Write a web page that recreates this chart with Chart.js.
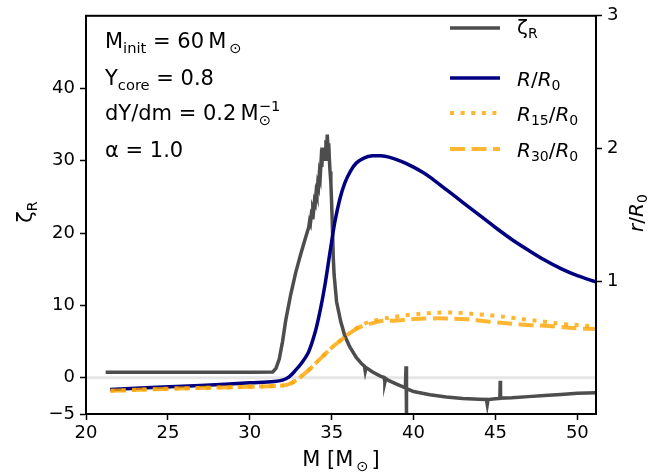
<!DOCTYPE html>
<html>
<head>
<meta charset="utf-8">
<script src="https://cdn.jsdelivr.net/npm/chart.js@4.4.0/dist/chart.umd.min.js"></script>
<style>
  html, body { margin: 0; padding: 0; background: #fff; }
  #wrap { width: 665px; height: 476px; }
</style>
</head>
<body>
<div id="wrap"><canvas id="chart" width="665" height="476"></canvas></div>
<script>
// axis ranges and ticks
var xMin = 20, xMax = 51.14;
var xTicks = [20, 25, 30, 35, 40, 45, 50];
var zetaMin = -5, zetaMax = 50;
var zetaTicks = [-5, 0, 10, 20, 30, 40];
var rMin = 0, rMax = 3;
var rTicks = [1, 2, 3];

// zeta_R vs mass (left axis)
var zetaM = [21.2, 25, 30, 31.4, 31.6, 31.8, 32.0, 32.2, 32.5, 32.8, 33.1, 33.4,
  33.6, 33.65, 33.7, 33.75, 33.8, 33.85, 33.9, 33.95, 34.0, 34.05, 34.1, 34.15, 34.2, 34.25, 34.3, 34.35,
  34.4, 34.45, 34.5, 34.55, 34.6, 34.65, 34.7, 34.73, 34.78, 34.82, 34.86, 34.9,
  34.95, 35.0, 35.05, 35.1, 35.15, 35.3, 35.55, 35.8, 36.1, 36.5, 36.85, 37.0, 37.05, 37.1, 37.5,
  38.0, 38.2, 38.25, 38.3, 38.5, 39.0, 39.5, 39.54, 39.56, 39.58, 40, 41, 42, 43, 44, 44.45, 44.5, 44.55,
  45, 45.27, 45.29, 45.31, 46, 47, 48, 49, 50, 51.14];
var zetaV = [0.75, 0.75, 0.75, 0.8, 1.3, 2.6, 5.0, 8.0, 11.5, 14.5, 17.0, 19.3,
  20.8, 21.6, 21.3, 22.4, 22.1, 23.4, 23.1, 24.4, 24.1, 25.6, 25.2, 26.8, 26.4, 28.2, 27.7, 29.8,
  29.1, 31.8, 30.2, 31.5, 30.2, 32.8, 31.3, 33.6, 31.6, 32.4, 30.2, 28.5,
  27.0, 24.0, 20.5, 16.5, 14.2, 10.5, 7.8, 5.8, 4.3, 2.8, 1.9, 1.6, 0.9, 1.4, 0.8,
  0.2, 0.05, -0.6, -0.1, -0.4, -0.9, -1.4, 1.6, -5.0, -1.5, -1.9, -2.35, -2.65, -2.85, -2.95, -3.0, -3.7, -3.0,
  -2.9, -2.85, -0.4, -2.8, -2.75, -2.6, -2.45, -2.3, -2.15, -2.05];

// R/R0 vs mass (right axis)
var radM = [21.47, 24, 27, 30, 31.5, 32.0, 32.4, 32.8, 33.2, 33.6, 34.0, 34.3, 34.6, 34.9, 35.2, 35.5,
  35.8, 36.15, 36.5, 37.0, 37.5, 38.0, 38.5, 39.0, 39.5, 40, 40.5, 41, 42, 43, 44, 45, 46, 47, 48, 49, 50, 51.14];
var radV = [0.185, 0.2, 0.215, 0.235, 0.245, 0.255, 0.28, 0.33, 0.39, 0.47, 0.62, 0.78, 0.98, 1.22, 1.45, 1.62,
  1.74, 1.83, 1.89, 1.93, 1.945, 1.945, 1.935, 1.915, 1.89, 1.86, 1.825, 1.785, 1.69, 1.595, 1.5, 1.405, 1.315, 1.235, 1.16, 1.095, 1.042, 0.995];

// R15/R0 and R30/R0 vs mass (right axis)
var shellM = [21.5, 25, 30, 32.0, 32.5, 33.0, 33.5, 34.0, 34.5, 35.0, 35.5, 36.0, 36.5, 37.0, 37.5, 38,
  39, 40, 41, 42, 43, 44, 45, 46, 47, 48, 49, 50, 51.14];
var r15V = [0.175, 0.19, 0.205, 0.215, 0.23, 0.27, 0.32, 0.38, 0.44, 0.5, 0.55, 0.6, 0.645, 0.68, 0.70, 0.715,
  0.735, 0.75, 0.76, 0.765, 0.76, 0.75, 0.74, 0.725, 0.71, 0.695, 0.68, 0.67, 0.66];
var r30V = [0.175, 0.19, 0.205, 0.215, 0.23, 0.27, 0.32, 0.38, 0.44, 0.5, 0.55, 0.6, 0.64, 0.67, 0.685, 0.70,
  0.705, 0.715, 0.72, 0.72, 0.715, 0.705, 0.69, 0.68, 0.67, 0.665, 0.655, 0.645, 0.64];

// zero reference line
var zeroM = [xMin, xMax];
var zeroV = [0, 0];

function pts(xs, ys) {
    var out = [];
    for (var i = 0; i < xs.length; i++) out.push({ x: xs[i], y: ys[i] });
    return out;
}

var FONT = '"DejaVu Sans", sans-serif';
var GRAY = '#4d4d4d', NAVY = '#000080', ORANGE = 'rgba(255,165,0,0.8)';

// draw text runs with sub/superscripts, returns width
function drawRich(ctx, x, y, parts, fs, dry) {
    var cx = x, lastStart = x, lastEnd = x;
    for (var i = 0; i < parts.length; i++) {
        var p = parts[i];
        var size = (p.sub || p.sup) ? fs * 0.7 : fs;
        var dy = p.sub ? fs * 0.22 : (p.sup ? -fs * 0.42 : 0);
        ctx.font = (p.it ? 'italic ' : '') + size + 'px ' + FONT;
        var start = p.stack ? lastStart : cx;
        if (!dry) ctx.fillText(p.t, start, y + dy);
        var end = start + ctx.measureText(p.t).width;
        if (p.stack) {
            cx = Math.max(lastEnd, end);
        } else {
            lastStart = start; lastEnd = end; cx = end;
        }
    }
    return cx - x;
}

function drawCentered(ctx, cx, cy, parts, fs, rot) {
    ctx.save();
    ctx.translate(cx, cy);
    if (rot) ctx.rotate(rot);
    var w = drawRich(ctx, 0, 0, parts, fs, true);
    drawRich(ctx, -w / 2, 0, parts, fs, false);
    ctx.restore();
}

var EQ = ' = ';
var textPlugin = {
    id: 'texts',
    afterDraw: function(chart) {
        var ctx = chart.ctx, a = chart.chartArea;
        ctx.save();
        // frame
        ctx.strokeStyle = '#000';
        ctx.lineWidth = 2;
        ctx.strokeRect(a.left, a.top, a.right - a.left, a.bottom - a.top);

        ctx.fillStyle = '#000';
        ctx.textBaseline = 'alphabetic';
        ctx.textAlign = 'left';

        // parameter annotations
        drawRich(ctx, 105, 48, [{ t: 'M' }, { t: 'init', sub: true }, { t: EQ + '60\u2009M' }, { t: '\u2009\u2299', sub: true }], 21);
        drawRich(ctx, 105, 85, [{ t: 'Y' }, { t: 'core', sub: true }, { t: EQ + '0.8' }], 21);
        drawRich(ctx, 105, 120, [{ t: 'dY/dm' + EQ + '0.2\u2009M' }, { t: '\u2299', sub: true }, { t: '\u22121', sup: true, stack: true }], 21);
        drawRich(ctx, 105, 157, [{ t: '\u03b1' + EQ + '1.0' }], 21);

        // legend
        var lx0 = 450, lx1 = 500, tx = 517;
        var rows = [
            { y: 28, base: 34, color: GRAY, dash: [], parts: [{ t: '\u03b6' }, { t: 'R', sub: true }] },
            { y: 78, base: 86, color: NAVY, dash: [], parts: [{ t: 'R', it: true }, { t: '/' }, { t: 'R', it: true }, { t: '0', sub: true }] },
            { y: 113, base: 121, color: ORANGE, dash: [4, 6.6], parts: [{ t: 'R', it: true }, { t: '15', sub: true }, { t: '/' }, { t: 'R', it: true }, { t: '0', sub: true }] },
            { y: 149, base: 157, color: ORANGE, dash: [15, 6.5], parts: [{ t: 'R', it: true }, { t: '30', sub: true }, { t: '/' }, { t: 'R', it: true }, { t: '0', sub: true }] }
        ];
        rows.forEach(function(r) {
            ctx.beginPath();
            ctx.strokeStyle = r.color;
            ctx.lineWidth = (r.dash.length ? 4 : 3.5);
            ctx.setLineDash(r.dash);
            ctx.moveTo(lx0, r.y);
            ctx.lineTo(lx1, r.y);
            ctx.stroke();
            ctx.setLineDash([]);
            ctx.fillStyle = '#000';
            drawRich(ctx, tx, r.base, r.parts, 20);
        });

        // axis titles
        drawCentered(ctx, 341, 466, [{ t: 'M [M' }, { t: '\u2009\u2299\u2009', sub: true }, { t: ']' }], 21, 0);
        drawCentered(ctx, 32, 212, [{ t: '\u03b6' }, { t: 'R', sub: true }], 21, -Math.PI / 2);
        drawCentered(ctx, 643, 213, [{ t: 'r', it: true }, { t: '/' }, { t: 'R', it: true }, { t: '0', sub: true }], 20, -Math.PI / 2);
        ctx.restore();
    }
};

function axisGrid() {
    return { drawOnChartArea: false, drawTicks: true, tickLength: 6, tickWidth: 1.5, tickColor: '#000', color: '#000' };
}
function minus(v) { return String(v).replace('-', '\u2212'); }

var ctx = document.getElementById('chart');
var myChart = new Chart(ctx, {
    type: 'line',
    data: {
        datasets: [
            { data: pts(shellM, r30V), yAxisID: 'y2', borderColor: ORANGE, borderWidth: 4, borderDash: [15, 6.5], tension: 0.35, order: 0 },
            { data: pts(shellM, r15V), yAxisID: 'y2', borderColor: ORANGE, borderWidth: 4, borderDash: [4, 6.6], tension: 0.35, order: 1 },
            { data: pts(radM, radV), yAxisID: 'y2', borderColor: NAVY, borderWidth: 3.5, tension: 0.35, order: 2 },
            { data: pts(zetaM, zetaV), yAxisID: 'y', borderColor: GRAY, borderWidth: 3.5, tension: 0, order: 3 },
            { data: pts(zeroM, zeroV), yAxisID: 'y', borderColor: '#e6e6e6', borderWidth: 3, order: 4 }
        ]
    },
    options: {
        responsive: false,
        animation: false,
        devicePixelRatio: 1,
        layout: { padding: { top: 13, left: 0, right: 0, bottom: 0 } },
        elements: { point: { radius: 0 }, line: { borderCapStyle: 'butt' } },
        plugins: { legend: { display: false }, tooltip: { enabled: false } },
        scales: {
            x: {
                type: 'linear', min: xMin, max: xMax,
                afterBuildTicks: function(s) { s.ticks = xTicks.map(function(v) { return { value: v }; }); },
                afterFit: function(s) { s.height = 62; },
                ticks: { color: '#000', padding: 3, maxRotation: 0, font: { family: FONT, size: 18 } },
                grid: axisGrid(),
                border: { color: '#000', width: 2 }
            },
            y: {
                type: 'linear', position: 'left', min: zetaMin, max: zetaMax,
                afterBuildTicks: function(s) { s.ticks = zetaTicks.map(function(v) { return { value: v }; }); },
                afterFit: function(s) { s.width = 86; },
                ticks: { color: '#000', padding: 5, font: { family: FONT, size: 18 }, callback: function(v) { return minus(v); } },
                grid: axisGrid(),
                border: { color: '#000', width: 2 }
            },
            y2: {
                type: 'linear', position: 'right', min: rMin, max: rMax,
                afterBuildTicks: function(s) { s.ticks = rTicks.map(function(v) { return { value: v }; }); },
                afterFit: function(s) { s.width = 69; },
                ticks: { color: '#000', padding: 5, font: { family: FONT, size: 18 } },
                grid: axisGrid(),
                border: { color: '#000', width: 2 }
            }
        }
    },
    plugins: [textPlugin]
});
</script>
</body>
</html>
